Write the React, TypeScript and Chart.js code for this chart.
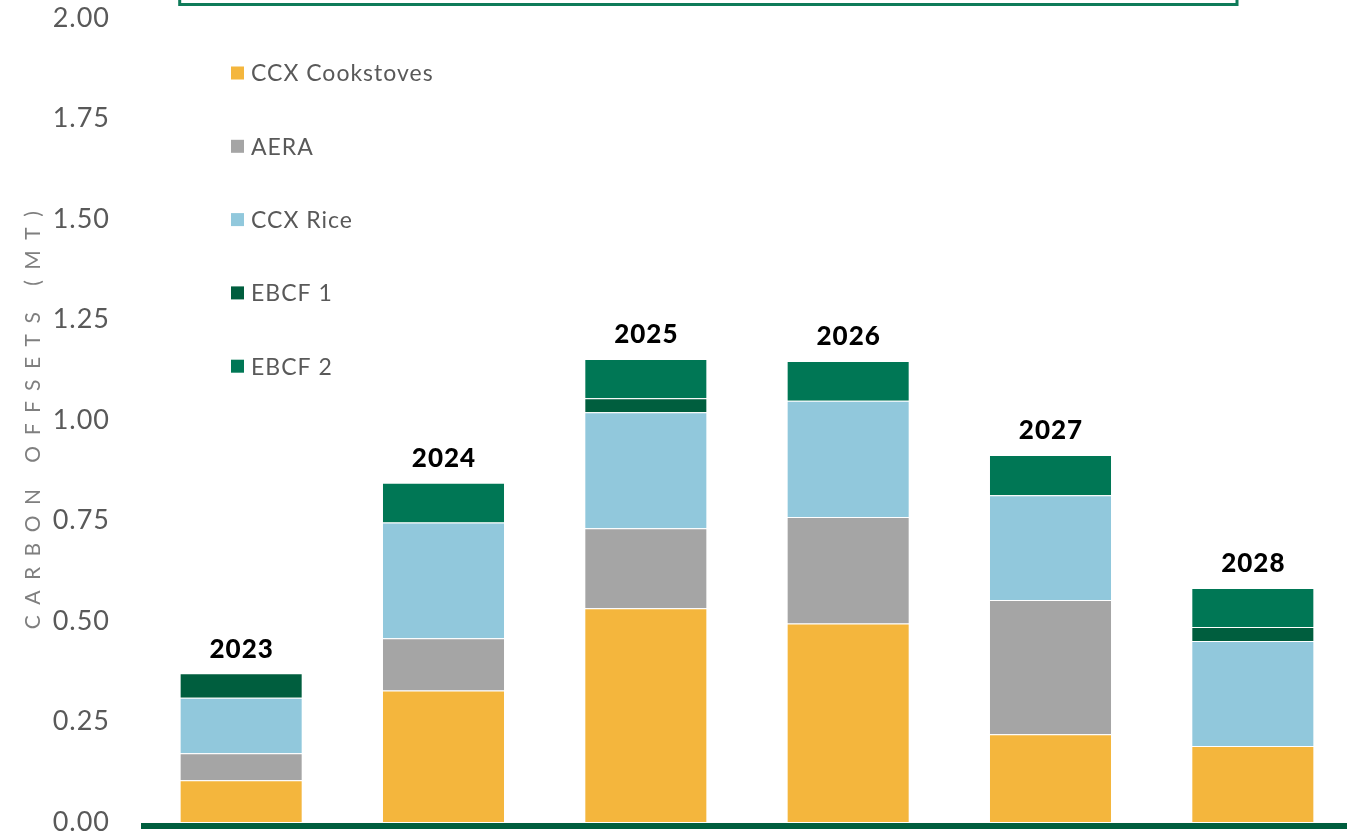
import React, { useEffect, useRef } from "react";
import { Chart, registerables } from "chart.js";

Chart.register(...registerables);

const years = ["2023", "2024", "2025", "2026", "2027", "2028"];
const cookstoves = [0.104, 0.327, 0.532, 0.494, 0.218, 0.189];
const aera = [0.067, 0.130, 0.199, 0.265, 0.334, null];
const rice = [0.138, 0.288, 0.288, 0.289, 0.261, 0.261];
const ebcf1 = [0.061, null, 0.035, null, null, 0.035];
const ebcf2 = [null, 0.099, 0.098, 0.099, 0.100, 0.097];

const seriesLabels = ["CCX Cookstoves", "AERA", "CCX Rice", "EBCF 1", "EBCF 2"];
const seriesColors = ["#F4B63D", "#A5A5A5", "#91C8DC", "#005E3E", "#007755"];
const yTicks = [0, 0.25, 0.5, 0.75, 1.0, 1.25, 1.5, 1.75, 2.0];

const FONT = "Lato, 'Open Sans', sans-serif";

const decorPlugin = {
  id: "decor",
  beforeDraw(chart: any) {
    (chart.ctx as any).letterSpacing = "1px";
  },
  afterDatasetsDraw(chart: any) {
    const ctx = chart.ctx;
    const area = chart.chartArea;
    ctx.save();
    // baseline axis line
    ctx.fillStyle = "#005E3E";
    ctx.fillRect(141, area.bottom + 1, chart.width - 141, 6);

    // year labels above stacks
    ctx.font = `900 26px ${FONT}`;
    (ctx as any).letterSpacing = "1px";
    ctx.fillStyle = "#000000";
    ctx.textAlign = "center";
    ctx.textBaseline = "middle";
    chart.data.labels.forEach((lab: string, i: number) => {
      let top = Infinity;
      let x = 0;
      chart.data.datasets.forEach((ds: any, d: number) => {
        const v = ds.data[i];
        if (v === null || v === undefined) return;
        const el = chart.getDatasetMeta(d).data[i];
        if (el.y < top) {
          top = el.y;
          x = el.x;
        }
      });
      ctx.fillText(lab, x + 0.5, top - 24);
    });

    // legend inside plot
    ctx.font = `23px ${FONT}`;
    (ctx as any).letterSpacing = "1px";
    ctx.textAlign = "left";
    chart.data.datasets.forEach((ds: any, d: number) => {
      const y = 73 + d * 73.3;
      ctx.fillStyle = ds.backgroundColor;
      ctx.fillRect(231, y - 6.5, 13, 13);
      ctx.fillStyle = "#595959";
      ctx.fillText(ds.label, 251, y + 1);
    });

    // axis title
    ctx.save();
    ctx.translate(33, 420);
    ctx.rotate(-Math.PI / 2);
    ctx.font = `21px ${FONT}`;
    ctx.fillStyle = "#7F7F7F";
    (ctx as any).letterSpacing = "10.5px";
    ctx.textAlign = "center";
    ctx.textBaseline = "middle";
    ctx.fillText("CARBON OFFSETS (MT)", 5, 0);
    ctx.restore();

    // green box cut at the top
    ctx.strokeStyle = "#0E7B59";
    ctx.lineWidth = 3;
    ctx.strokeRect(179.7, -20, 1057.3, 24.5);
    ctx.restore();
  },
};

export default function App() {
  const ref = useRef<HTMLCanvasElement>(null);
  useEffect(() => {
    if (!ref.current) return;
    const datasets = [cookstoves, aera, rice, ebcf1, ebcf2].map((arr, i) => ({
      label: seriesLabels[i],
      data: arr,
      backgroundColor: seriesColors[i],
      borderColor: "rgba(255,255,255,0.55)",
      borderWidth: 1,
      categoryPercentage: 0.608,
      barPercentage: 1,
    }));
    const chart = new Chart(ref.current, {
      type: "bar",
      data: { labels: years, datasets },
      options: {
        responsive: false,
        animation: false,
        layout: { padding: { top: 18, bottom: 28, left: 0, right: 0 } },
        plugins: { legend: { display: false }, tooltip: { enabled: false } },
        scales: {
          x: { stacked: true, display: false },
          y: {
            stacked: true,
            min: 0,
            max: 2,
            afterFit(scale: any) {
              scale.width = 140;
              scale.paddingTop = 0;
              scale.paddingBottom = 0;
            },
            afterBuildTicks(scale: any) {
              scale.ticks = yTicks.map((v) => ({ value: v }));
            },
            grid: { display: false, drawTicks: false },
            border: { display: false },
            ticks: {
              padding: 30,
              color: "#595959",
              font: { family: FONT, size: 27 },
              callback: (v: any) => Number(v).toFixed(2),
            },
          },
        },
      },
      plugins: [decorPlugin],
    });
    return () => chart.destroy();
  }, []);
  return (
    <div
      style={{
        position: "fixed",
        left: 0,
        top: 0,
        width: 1347,
        height: 833,
        overflow: "hidden",
        background: "#fff",
      }}
    >
      <canvas ref={ref} width={1354} height={850} />
    </div>
  );
}
